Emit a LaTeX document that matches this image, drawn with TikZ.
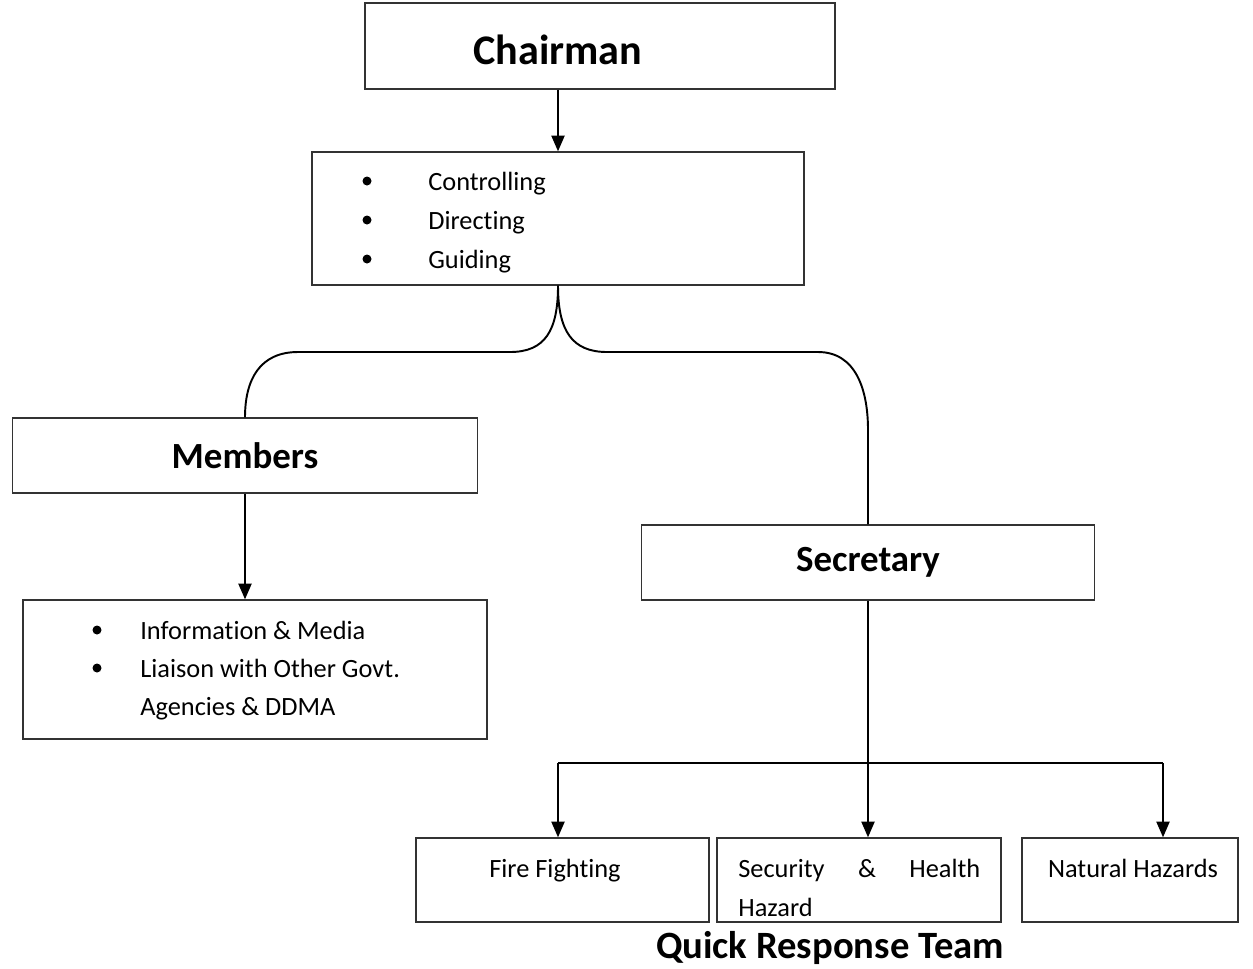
\documentclass[tikz,border=0pt]{standalone}
\usepackage{fontspec}
\setmainfont[Ligatures={NoCommon}]{Carlito}
\usetikzlibrary{arrows.meta}
\tikzset{
  box/.style = {draw=black!80, line width=0.8pt, rectangle, inner sep=0pt},
  conn/.style = {line width=1.1pt},
  arr/.style = {conn, -{Triangle[length=9pt,width=7.5pt]}},
  item/.style = {anchor=base west, inner sep=0pt, font=\fontsize{15}{18}\selectfont},
  label/.style = {anchor=base, inner sep=0pt, font=\fontsize{15}{18}\selectfont},
  head/.style = {font=\fontsize{21}{25}\selectfont\bfseries},
  dot/.style = {circle, fill, inner sep=0pt, minimum size=0.18cm}
}

\begin{document}
\begin{tikzpicture}[x=0.02cm, y=-0.02cm]
  \useasboundingbox (0,0) rectangle (1253,968);

  % boxes
  \node[box, minimum width=9.4cm, minimum height=1.72cm] (chair) at (600,46) {};
  \node[anchor=base, inner sep=0pt, font=\fontsize{24}{28}\selectfont\bfseries] (chairtxt) at (558,64) {Chairman};

  \node[box, minimum width=9.84cm, minimum height=2.66cm] (ctrl) at (558,218.5) {};
  \foreach \y/\t [count=\i] in {190/Controlling, 229/Directing, 268/Guiding} {
    \node[dot] (cdot\i) at (367,\y-9) {};
    \node[item] (ctl\i) at (428,\y) {\t};
  }

  \node[box, head, minimum width=9.3cm, minimum height=1.5cm] (mem) at (245,455.5) {Members};

  \node[box, minimum width=9.28cm, minimum height=2.78cm] (info) at (255,669.5) {};
  \foreach \y/\t [count=\i] in {639/Information \& Media, 677/Liaison with Other Govt.} {
    \node[dot] (idot\i) at (97,\y-9) {};
    \node[item] (inf\i) at (140,\y) {\t};
  }
  \node[item] (inf3) at (140,715) {Agencies \& DDMA};

  \node[box, head, minimum width=9.06cm, minimum height=1.5cm] (sec) at (868,562.5) {Secretary};

  \node[box, minimum width=5.86cm, minimum height=1.68cm] (fire) at (562.5,880) {};
  \node[label] (firetxt) at (555,877) {Fire Fighting};

  \node[box, minimum width=5.68cm, minimum height=1.68cm] (hlth) at (859,880) {};
  \node[item] (hlthtxt) at (738,877) {\hbox to 4.84cm{Security\hfill\&\hfill Health}};
  \node[item] (hlthtxt2) at (738,916) {Hazard};

  \node[box, minimum width=4.32cm, minimum height=1.68cm] (natr) at (1130,880) {};
  \node[label] (natrtxt) at (1133,877) {Natural Hazards};

  \node[anchor=base, inner sep=0pt, font=\fontsize{22}{26}\selectfont\bfseries] (qrt) at (830,958) {Quick Response Team};

  % connectors
  \draw[arr] (chair.south -| ctrl.north) -- (ctrl.north);

  \draw[conn] (ctrl.south) .. controls +(0,45) and +(35,0) .. (510,352) -- (298,352)
    .. controls +(-38,0) and +(0,-38) .. (mem.north);
  \draw[conn] (ctrl.south) .. controls +(0,45) and +(-35,0) .. (607,352) -- (818,352)
    .. controls +(38,0) and +(0,-40) .. (868,430) -- (sec.north);

  \draw[arr] (mem.south) -- (info.north -| mem.south);

  \coordinate (barL) at (558,763);
  \coordinate (barR) at (1163,763);
  \draw[conn] (sec.south) -- (sec.south |- barL);
  \draw[conn] (barL) -- (barR);
  \foreach \x/\b in {558/fire, 868/hlth, 1163/natr}
    \draw[arr] (\x,763) -- (\b.north -| \x,763);

\end{tikzpicture}
\end{document}
